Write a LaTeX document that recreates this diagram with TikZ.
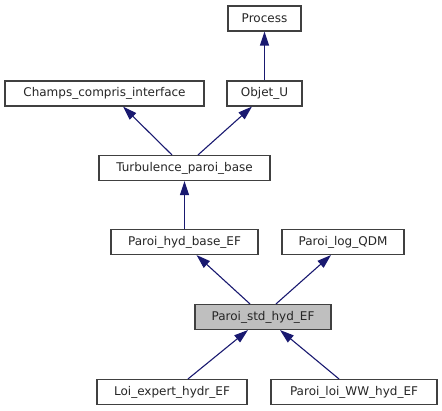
\documentclass[tikz,border=0pt]{standalone}
\usepackage{fontspec}
\setmainfont{DejaVu Sans}
\usetikzlibrary{arrows.meta}
\definecolor{edgecol}{RGB}{25,25,112}
\definecolor{boxborder}{RGB}{64,64,64}
\definecolor{curfill}{RGB}{191,191,191}
\begin{document}
\begin{tikzpicture}[x=1pt,y=-1pt,
  box/.style={draw=boxborder,line width=1.1pt,fill=white,inner sep=0pt,minimum height=25pt,font=\fontsize{12}{14}\selectfont,text=black!85},
  cur/.style={box,fill=curfill},
  inh/.style={draw=edgecol,line width=1.1pt,-{Triangle[length=14pt,width=9pt]}}]
\useasboundingbox (0,0) rectangle (442,411);
\node[box,minimum width=73pt] (proc) at (264.5,18.5) {Process};
\node[box,minimum width=199pt] (champs) at (104.5,93.5) {Champs\_compris\_interface};
\node[box,minimum width=75pt] (obj) at (264.5,93.5) {Objet\_U};
\node[box,minimum width=171pt] (turb) at (184.5,168) {Turbulence\_paroi\_base};
\node[box,minimum width=147pt] (hyd) at (184.5,242) {Paroi\_hyd\_base\_EF};
\node[box,minimum width=122pt] (log) at (343,242) {Paroi\_log\_QDM};
\node[cur,minimum width=136pt] (std) at (263,317) {Paroi\_std\_hyd\_EF};
\node[box,minimum width=150pt] (loi) at (172,392) {Loi\_expert\_hydr\_EF};
\node[box,minimum width=166pt] (ww) at (354,392) {Paroi\_loi\_WW\_hyd\_EF};
\draw[inh] (obj.north) -- (proc.south);
\draw[inh] ([xshift=-12.5pt]turb.north) -- ([xshift=18.5pt]champs.south);
\draw[inh] ([xshift=13.5pt]turb.north) -- ([xshift=-12.5pt]obj.south);
\draw[inh] (hyd.north) -- (turb.south);
\draw[inh] ([xshift=-13pt]std.north) -- ([xshift=12pt]hyd.south);
\draw[inh] ([xshift=13pt]std.north) -- ([xshift=-12pt]log.south);
\draw[inh] ([xshift=16pt]loi.north) -- ([xshift=-15pt]std.south);
\draw[inh] ([xshift=-15pt]ww.north) -- ([xshift=17pt]std.south);
\end{tikzpicture}
\end{document}
